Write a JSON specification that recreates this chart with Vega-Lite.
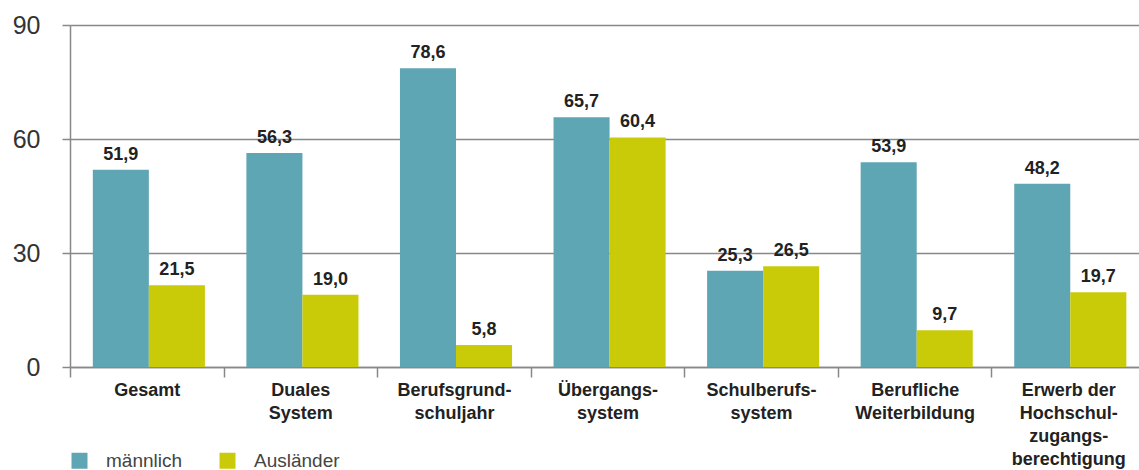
{
  "$schema": "https://vega.github.io/schema/vega-lite/v6.json",
  "width": 1075,
  "height": 342,
  "autosize": {"type": "none"},
  "padding": {"left": 70, "top": 25, "right": -6, "bottom": 103},
  "config": {
    "locale": {"number": {"decimal": ",", "thousands": ".", "grouping": [3], "currency": ["", " €"]}},
    "font": "Liberation Sans",
    "view": {"stroke": null}
  },
  "data": {
    "values": [
      {"bereich": "Gesamt", "gruppe": "männlich", "wert": 51.9},
      {"bereich": "Gesamt", "gruppe": "Ausländer", "wert": 21.5},
      {"bereich": "Duales System", "gruppe": "männlich", "wert": 56.3},
      {"bereich": "Duales System", "gruppe": "Ausländer", "wert": 19.0},
      {"bereich": "Berufsgrundschuljahr", "gruppe": "männlich", "wert": 78.6},
      {"bereich": "Berufsgrundschuljahr", "gruppe": "Ausländer", "wert": 5.8},
      {"bereich": "Übergangssystem", "gruppe": "männlich", "wert": 65.7},
      {"bereich": "Übergangssystem", "gruppe": "Ausländer", "wert": 60.4},
      {"bereich": "Schulberufssystem", "gruppe": "männlich", "wert": 25.3},
      {"bereich": "Schulberufssystem", "gruppe": "Ausländer", "wert": 26.5},
      {"bereich": "Berufliche Weiterbildung", "gruppe": "männlich", "wert": 53.9},
      {"bereich": "Berufliche Weiterbildung", "gruppe": "Ausländer", "wert": 9.7},
      {"bereich": "Erwerb der Hochschulzugangsberechtigung", "gruppe": "männlich", "wert": 48.2},
      {"bereich": "Erwerb der Hochschulzugangsberechtigung", "gruppe": "Ausländer", "wert": 19.7}
    ]
  },
  "encoding": {
    "x": {
      "field": "bereich",
      "type": "nominal",
      "sort": null,
      "scale": {"paddingInner": 0, "paddingOuter": 0},
      "axis": {
        "title": null,
        "labelAngle": 0,
        "labelFontSize": 18,
        "labelFontWeight": "bold",
        "labelColor": "#222222",
        "labelLineHeight": 23,
        "labelPadding": 4,
        "labelBaseline": "top",
        "labelExpr": "datum.value == 'Duales System' ? ['Duales','System'] : datum.value == 'Berufsgrundschuljahr' ? ['Berufsgrund-','schuljahr'] : datum.value == 'Übergangssystem' ? ['Übergangs-','system'] : datum.value == 'Schulberufssystem' ? ['Schulberufs-','system'] : datum.value == 'Berufliche Weiterbildung' ? ['Berufliche','Weiterbildung'] : datum.value == 'Erwerb der Hochschulzugangsberechtigung' ? ['Erwerb der','Hochschul-','zugangs-','berechtigung'] : datum.value",
        "tickBand": "extent",
        "tickSize": 10,
        "tickColor": "#888888",
        "tickWidth": 1.5,
        "domainColor": "#888888",
        "domainWidth": 1.5
      }
    },
    "xOffset": {
      "field": "gruppe",
      "type": "nominal",
      "sort": ["männlich", "Ausländer"],
      "scale": {"paddingInner": 0, "paddingOuter": 0.37, "align": 0.55}
    },
    "y": {
      "field": "wert",
      "type": "quantitative",
      "scale": {"domain": [0, 90], "nice": false},
      "axis": {
        "title": null,
        "values": [0, 30, 60, 90],
        "labelFontSize": 25,
        "labelColor": "#333333",
        "labelPadding": 22,
        "tickSize": 8,
        "tickColor": "#888888",
        "tickWidth": 1.5,
        "gridColor": "#888888",
        "gridWidth": 1.5,
        "domainColor": "#888888",
        "domainWidth": 1.5,
        "grid": true
      }
    }
  },
  "layer": [
    {
      "mark": {"type": "bar"},
      "encoding": {
        "color": {
          "field": "gruppe",
          "type": "nominal",
          "sort": ["männlich", "Ausländer"],
          "scale": {"domain": ["männlich", "Ausländer"], "range": ["#5fa6b4", "#c9cb08"]},
          "legend": {
            "title": null,
            "orient": "none",
            "direction": "horizontal",
            "legendX": 0,
            "legendY": 426,
            "symbolType": "square",
            "symbolSize": 256,
            "symbolStrokeWidth": 0,
            "labelFontSize": 19,
            "labelColor": "#444444",
            "labelOffset": 17,
            "columnPadding": 35,
            "padding": 0
          }
        }
      }
    },
    {
      "mark": {"type": "text", "baseline": "bottom", "dy": -6, "fontSize": 18, "fontWeight": "bold", "color": "#222222"},
      "encoding": {
        "text": {"field": "wert", "type": "quantitative", "format": ".1f"}
      }
    }
  ]
}
